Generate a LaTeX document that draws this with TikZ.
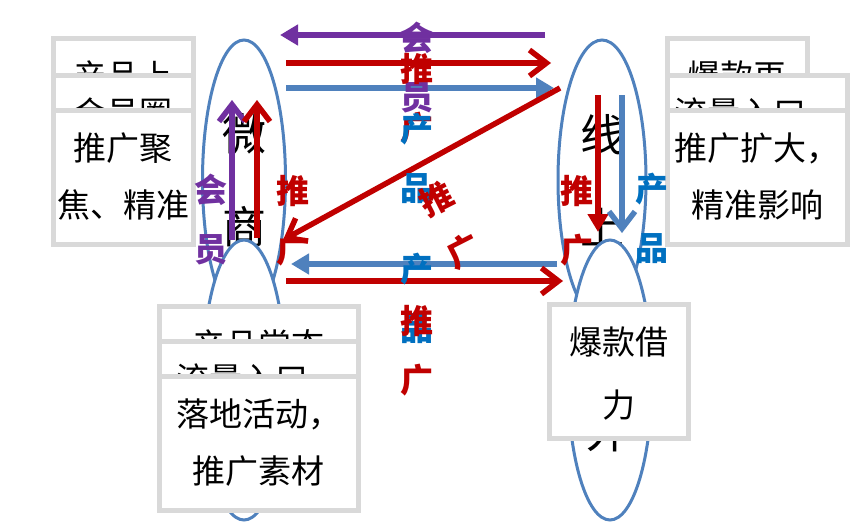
\documentclass[tikz,border=0pt]{standalone}
\usepackage{fontspec}
\setmainfont{Noto Sans CJK SC}
\usetikzlibrary{shapes.geometric,arrows.meta,positioning}
\definecolor{hypurple}{HTML}{7030A0}
\definecolor{tgred}{HTML}{C00000}
\definecolor{cpblue}{HTML}{4F81BD}
\definecolor{lbblue}{HTML}{0070C0}
\definecolor{boxgray}{HTML}{D9D9D9}
\begin{document}
\begin{tikzpicture}[x=1pt,y=-1pt,
  channel/.style={draw=cpblue,line width=3pt,fill=white,ellipse,inner sep=0pt,minimum height=280pt,align=center,font=\fontsize{44}{93}\selectfont},
  infobox/.style={draw=boxgray,line width=4.5pt,fill=white,anchor=north west,inner sep=0pt,minimum height=134pt},
  boxtext/.style={inner sep=0pt,align=center,font=\fontsize{33}{57}\selectfont},
  flow/.style={line width=5.5pt},
  barb/.style={-{Straight Barb[length=17pt,width=26pt]}},
  tri/.style={-{Triangle[length=18pt,width=20pt]}},
  tag/.style={inner sep=0pt,align=center,font=\fontsize{33}{59}\selectfont\bfseries}]
\useasboundingbox[fill=white] (0,0) rectangle (857,530);

\node[channel,minimum width=83pt] (weishang) at (244,180) {微\\商};
\node[channel,minimum width=88pt] (xianshang) at (602,180) {线\\上};
\node[channel,minimum width=83pt] (wsLow) at (244,380) {};
\node[channel,minimum width=84pt] (xianxia) at (610,380) {};
\node[inner sep=0pt,font=\fontsize{44}{44}\selectfont] (xxChar) at (608,432) {外};

\node[infobox,minimum width=140pt] (lbA) at (51,36) {};
\node[boxtext,below=25pt of lbA.north] (lbAt) {产品上};
\node[infobox,minimum width=140pt] (lbB) at (51,73) {};
\node[boxtext,below=25pt of lbB.north] (lbBt) {会员圈};
\node[infobox,minimum width=140pt] (lbC) at (51,108) {};
\node[boxtext,below=25pt of lbC.north] (lbCt) {推广聚\\焦、精准};

\node[infobox,minimum width=140pt] (rbA) at (665,36) {};
\node[boxtext,below=25pt of rbA.north] (rbAt) {爆款再};
\node[infobox,minimum width=180pt] (rbB) at (665,73) {};
\node[boxtext,below=25pt of rbB.north] (rbBt) {流量入口，};
\node[infobox,minimum width=180pt] (rbC) at (665,108) {};
\node[boxtext,below=25pt of rbC.north] (rbCt) {推广扩大，\\精准影响};

\node[infobox,minimum width=199pt] (dbA) at (157,304) {};
\node[boxtext,below=25pt of dbA.north] (dbAt) {产品常态};
\node[infobox,minimum width=199pt] (dbB) at (157,339) {};
\node[boxtext,below=25pt of dbB.north] (dbBt) {流量入口，};
\node[infobox,minimum width=199pt] (dbC) at (157,374) {};
\node[boxtext,below=25pt of dbC.north] (dbCt) {落地活动，\\推广素材};

\node[infobox,minimum width=139pt] (xbA) at (547,302) {};
\node[boxtext,below=25pt of xbA.north,font=\fontsize{33}{63}\selectfont] (xbAt) {爆款借\\力};

\coordinate (hyS) at (545,35);
\coordinate (hyE) at (280,35);
\coordinate (tgS) at (286,63);
\coordinate (tgE) at (551,63);
\coordinate (cpS) at (286,88);
\coordinate (cpE) at (554,88);
\coordinate (djS) at (560,88);
\coordinate (djE) at (283,240);
\coordinate (wsHyS) at (232,240);
\coordinate (wsHyE) at (232,100);
\coordinate (wsTgS) at (257,238);
\coordinate (wsTgE) at (257,100);
\coordinate (xsTgS) at (598,95);
\coordinate (xsTgE) at (598,232);
\coordinate (xsCpS) at (622,95);
\coordinate (xsCpE) at (622,233);
\coordinate (xxCpS) at (557,264);
\coordinate (xxCpE) at (291,264);
\coordinate (xxTgS) at (286,281);
\coordinate (xxTgE) at (563,281);

\path[draw=hypurple,flow,tri] (hyS) -- (hyE);
\path[draw=tgred,flow,barb] (tgS) -- (tgE);
\path[draw=cpblue,flow,tri] (cpS) -- (cpE);
\path[draw=tgred,flow,barb] (djS) -- (djE);
\path[draw=hypurple,flow,barb] (wsHyS) -- (wsHyE);
\path[draw=tgred,flow,barb] (wsTgS) -- (wsTgE);
\path[draw=tgred,flow,tri] (xsTgS) -- (xsTgE);
\path[draw=cpblue,flow,barb] (xsCpS) -- (xsCpE);
\path[draw=cpblue,flow,tri] (xxCpS) -- (xxCpE);
\path[draw=tgred,flow,barb] (xxTgS) -- (xxTgE);

\node[tag,text=hypurple] (hyTop) at (417,68) {会\\员};
\node[tag,text=tgred] (tgTop) at (417,99) {推\\广};
\node[tag,text=lbblue] (cpTop) at (417,158) {产\\品};
\node[tag,text=tgred,rotate=27] (tgDiag) at (450,225) {推\\广};
\node[tag,text=lbblue] (cpLow) at (417,298) {产\\品};
\node[tag,text=tgred] (tgLow) at (417,351) {推\\广};
\node[tag,text=hypurple] (hyLeft) at (211,220) {会\\员};
\node[tag,text=tgred] (tgLeft) at (293,221) {推\\广};
\node[tag,text=tgred] (tgRight) at (577,221) {推\\广};
\node[tag,text=lbblue] (cpRight) at (652,218) {产\\品};
\end{tikzpicture}
\end{document}
